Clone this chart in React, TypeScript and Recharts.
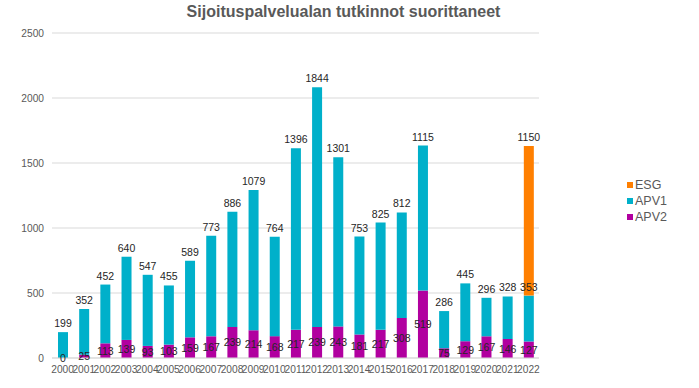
import React from 'react'
import {
  BarChart,
  Bar,
  XAxis,
  YAxis,
  CartesianGrid,
  Legend,
  LabelList,
} from 'recharts'

const years = ['2000', '2001', '2002', '2003', '2004', '2005', '2006', '2007', '2008', '2009', '2010', '2011', '2012', '2013', '2014', '2015', '2016', '2017', '2018', '2019', '2020', '2021', '2022']
const apv2 = [0, 25, 113, 139, 93, 103, 159, 167, 239, 214, 168, 217, 239, 243, 181, 217, 308, 519, 75, 129, 167, 146, 127]
const apv1 = [199, 352, 452, 640, 547, 455, 589, 773, 886, 1079, 764, 1396, 1844, 1301, 753, 825, 812, 1115, 286, 445, 296, 328, 353]
const esg = [null, null, null, null, null, null, null, null, null, null, null, null, null, null, null, null, null, null, null, null, null, null, 1150]
const yTicks = [0, 500, 1000, 1500, 2000, 2500]

const COLORS = { esg: '#FF7F00', apv1: '#00B0CA', apv2: '#B1009F' }
const FONT = '"Liberation Sans", Arial, sans-serif'

const chartData = years.map((y, i) => ({
  year: y,
  APV2: apv2[i],
  APV1: apv1[i],
  ESG: esg[i],
}))

const legendItems = [
  { name: 'ESG', color: COLORS.esg },
  { name: 'APV1', color: COLORS.apv1 },
  { name: 'APV2', color: COLORS.apv2 },
]

// legend in Excel order (top of stack first)
const LegendBox = () => (
  <div style={{ fontFamily: FONT, fontSize: 12.5, color: '#595959' }}>
    {legendItems.map((it) => (
      <div key={it.name} style={{ display: 'flex', alignItems: 'center', height: 16 }}>
        <span style={{ width: 6, height: 6, background: it.color, marginRight: 2, display: 'inline-block' }} />
        {it.name}
      </div>
    ))}
  </div>
)

const labelStyle = { fill: '#262626', fontSize: 10.5, fontFamily: FONT }

// APV2 label drawn from the APV1 rect: recharts skips zero-height segments,
// so scale the APV2 value with the APV1 rect's px-per-unit and centre it below
const Apv2Label = (props: any) => {
  const { x, y, width, height, index } = props
  if (x == null || index == null) return null
  const v1 = apv1[index]
  const v2 = apv2[index]
  const ppu = v1 ? height / v1 : 0
  const cy = y + height + (v2 * ppu) / 2
  return (
    <text x={x + width / 2} y={cy} textAnchor="middle" dominantBaseline="central" style={labelStyle}>
      {v2}
    </text>
  )
}

export default function App() {
  return (
    <div style={{ position: 'absolute', left: 0, top: 0, width: 699, height: 388, background: '#fff' }}>
      <div
        style={{
          position: 'absolute',
          left: 0,
          top: 3,
          width: 687,
          textAlign: 'center',
          fontFamily: FONT,
          fontWeight: 'bold',
          fontSize: 16,
          color: '#595959',
        }}
      >
        Sijoituspalvelualan tutkinnot suorittaneet
      </div>
      <BarChart
        width={699}
        height={388}
        data={chartData}
        margin={{ top: 33, right: 90, left: 0, bottom: 0 }}
        barSize={10}
      >
        <CartesianGrid vertical={false} stroke="#d9d9d9" />
        <XAxis
          dataKey="year"
          interval={0}
          height={30}
          tickLine={false}
          axisLine={{ stroke: '#d9d9d9' }}
          tick={{ fill: '#595959', fontSize: 10.2, fontFamily: FONT }}
        />
        <YAxis
          width={52}
          ticks={yTicks}
          domain={[0, 2500]}
          axisLine={false}
          tickLine={false}
          tick={{ fill: '#595959', fontSize: 10.2, fontFamily: FONT }}
        />
        <Legend
          layout="vertical"
          align="right"
          verticalAlign="top"
          content={<LegendBox />}
          wrapperStyle={{ left: 627, top: 177, width: 70 }}
        />
        <Bar dataKey="APV2" stackId="a" fill={COLORS.apv2} isAnimationActive={false} />
        <Bar dataKey="APV1" stackId="a" fill={COLORS.apv1} isAnimationActive={false}>
          <LabelList dataKey="APV1" position="top" style={labelStyle} />
          <LabelList dataKey="APV2" content={<Apv2Label />} />
        </Bar>
        <Bar dataKey="ESG" stackId="a" fill={COLORS.esg} isAnimationActive={false}>
          <LabelList dataKey="ESG" position="top" style={labelStyle} formatter={(v: any) => (v == null ? '' : v)} />
        </Bar>
      </BarChart>
    </div>
  )
}
